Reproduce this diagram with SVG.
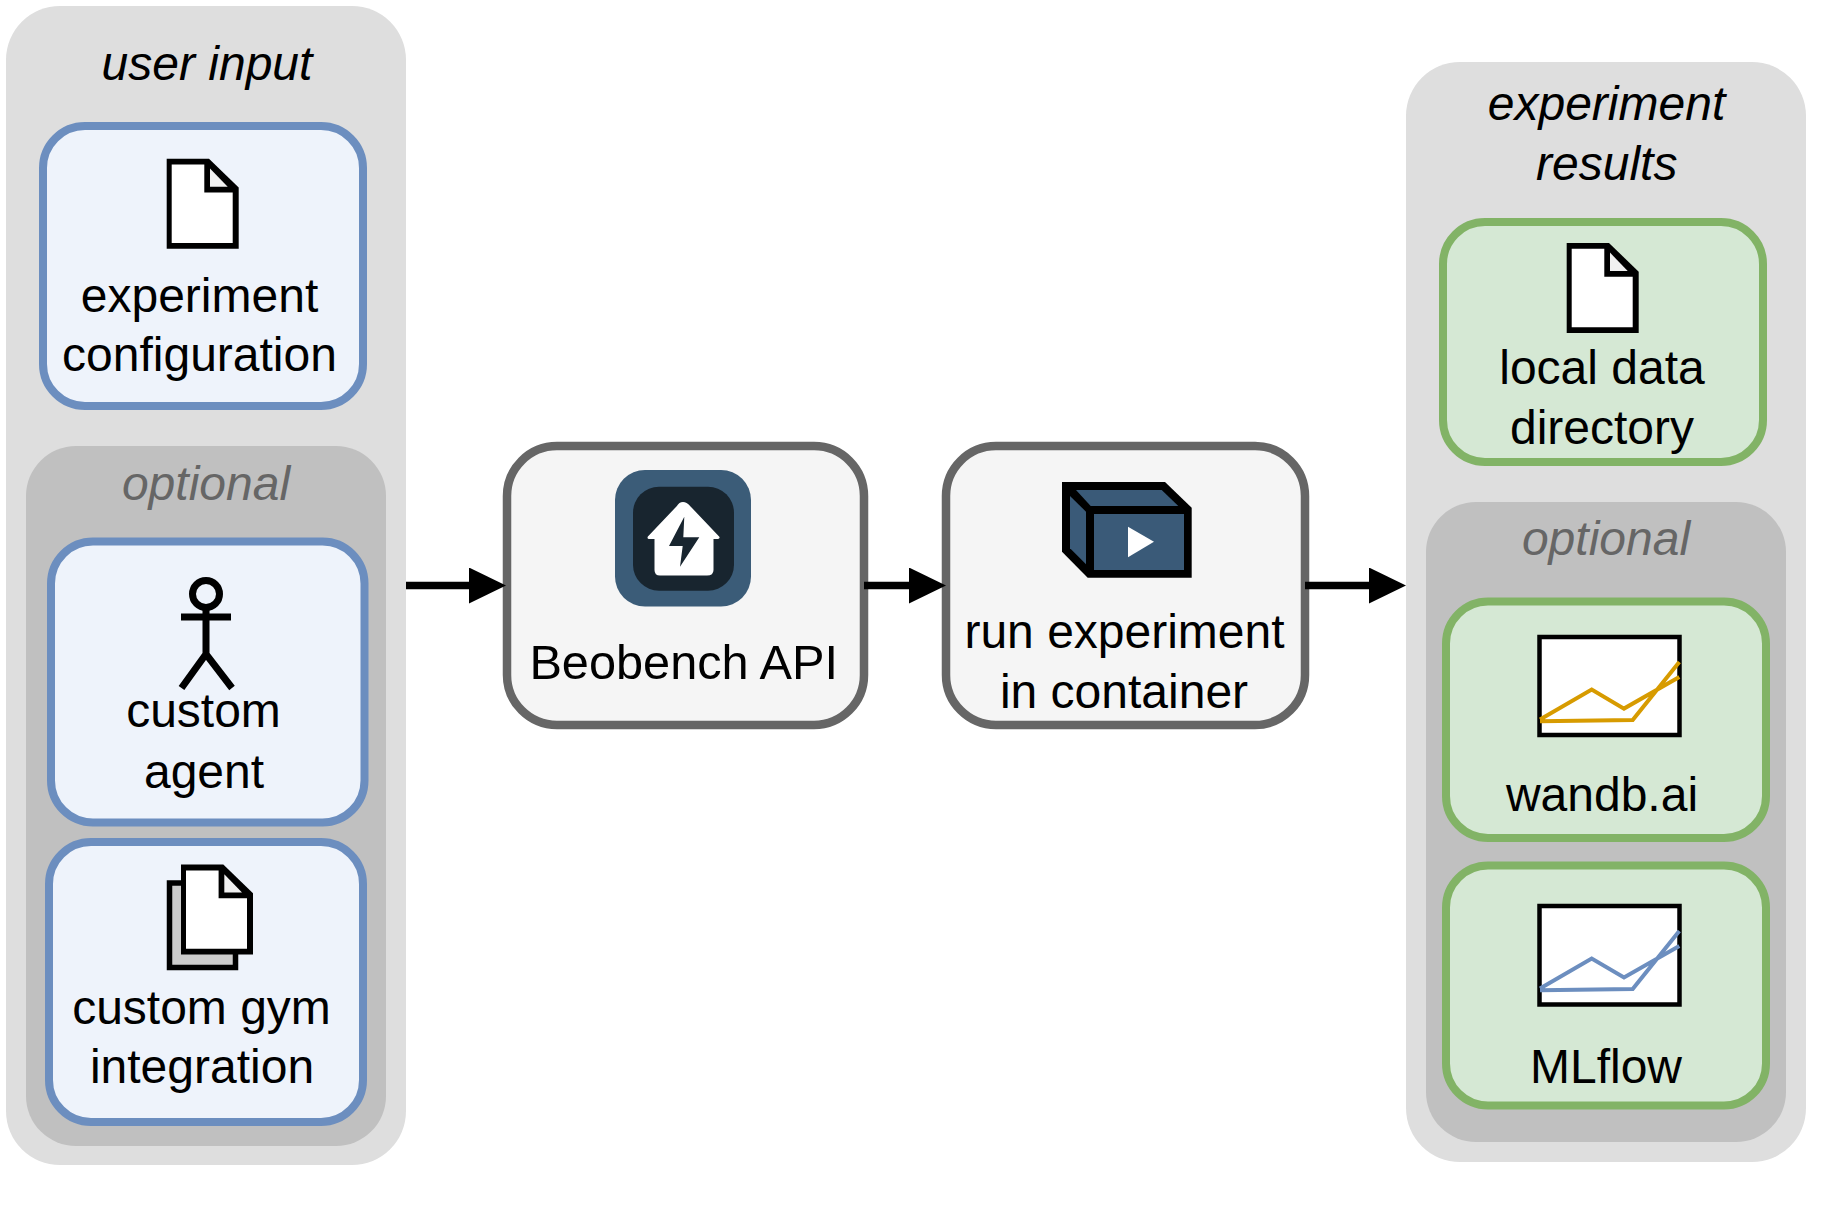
<svg xmlns="http://www.w3.org/2000/svg" width="1836" height="1224" viewBox="0 0 1836 1224">
<style>
text{font-family:"Liberation Sans",Arial,sans-serif;font-size:48px;fill:#000;text-anchor:middle}
.title{font-style:italic}
.opt{font-style:italic;fill:#666}
.outer{fill:#dedede}
.inner{fill:#c0c0c0}
.blue{fill:#eef3fb;stroke:#6c8ebf;stroke-width:8}
.green{fill:#d5e8d4;stroke:#82b366;stroke-width:8}
.grey{fill:#f5f5f5;stroke:#666;stroke-width:8.5}
.ic{stroke:#000;stroke-width:5.5;fill:#ccc}
.actor{stroke:#000;stroke-width:7;fill:none}
.face{fill:#3a5a78}
.chart{stroke:#000;stroke-width:4.5;fill:#fff}
.ol{stroke:#d79b00;stroke-width:4;fill:none}
.bl{stroke:#6c8ebf;stroke-width:4;fill:none}
.conn{stroke:#000;stroke-width:7.5;fill:none}
</style>
<defs>
<marker id="arrow" markerUnits="userSpaceOnUse" viewBox="0 0 37 36" refX="0" refY="18" markerWidth="37" markerHeight="36" orient="auto"><path d="M0 0L37 18L0 36Z" fill="#000"/></marker>
<g id="doc"><path fill="#000" d="M0 0H42.300L72 28.700V90H0Z"/><path fill="#fff" d="M5 5.800H37.600V33.700H66V84.200H5Z"/><path fill="#f0f0f0" d="M43.300 9.600L61 28H43.300Z"/></g>
</defs>
<g id="user-input">
<rect class="outer" x="6" y="6" width="400" height="1159" rx="54" ry="54"/>
<text class="title" x="207" y="80">user input</text>
</g>
<g id="user-optional">
<rect class="inner" x="26" y="446" width="360" height="700" rx="50" ry="50"/>
<text class="opt" x="206" y="499.500">optional</text>
</g>
<g id="experiment-configuration">
<rect class="blue" x="43" y="126" width="320" height="280" rx="42" ry="42"/>
<use href="#doc" x="166.700" y="158.800"/>
<text x="199.500" y="312">experiment</text>
<text x="199.500" y="371">configuration</text>
</g>
<g id="custom-agent">
<rect class="blue" x="51" y="541.500" width="313.500" height="281" rx="42" ry="42"/>
<circle cx="206" cy="594" r="13.500" stroke="#000" stroke-width="7" fill="none"/>
<path class="actor" d="M181 617H231M206 608V654M181.500 688L206 654L232 688"/>
<text x="203.500" y="727">custom</text>
<text x="204" y="787.500">agent</text>
</g>
<g id="custom-gym-integration">
<rect class="blue" x="49" y="842" width="314" height="280" rx="42" ry="42"/>
<path class="ic" d="M169.500 883H235.500V967.500H169.500Z"/>
<use href="#doc" x="181" y="864.600"/>
<text x="201.500" y="1023.500">custom gym</text>
<text x="202" y="1082.500">integration</text>
</g>
<g id="beobench-api">
<rect class="grey" x="507" y="446" width="357" height="279" rx="50" ry="50"/>
<rect x="615" y="470" width="136" height="136.500" rx="30" ry="30" fill="#3b5c78"/>
<rect x="633" y="486.700" width="101" height="104" rx="26" ry="26" fill="#18252f"/>
<path fill="#fff" stroke="#fff" stroke-width="3" stroke-linejoin="round" d="M683 503.500Q686 503.500 689 507L718 537.500H712V570Q712 574 707 574H660Q656 574 656 570V537.500H649L678 507Q680 503.500 683 503.500Z"/>
<path fill="#18252f" d="M684.300 516.700L683.300 537.300H699.300L680 566.700L682.700 546H669Z"/>
<text x="683.700" y="678.500" style="font-size:48.700px">Beobench API</text>
</g>
<g id="run-experiment">
<rect class="grey" x="946" y="446" width="359" height="279" rx="50" ry="50"/>
<path fill="#000" d="M1062 482H1165L1191.700 507.700V577.700H1087.700L1062 551.700Z"/>
<path class="face" d="M1076 490H1161.700L1178.300 506H1090.700Z"/>
<path class="face" d="M1070 496L1086 511.700V564.300L1070 548.300Z"/>
<rect class="face" x="1094" y="514" width="90" height="56"/>
<path fill="#fff" d="M1128 526.700L1154 541.700L1128 557.300Z"/>
<text x="1124.500" y="648">run experiment</text>
<text x="1124" y="707.500">in container</text>
</g>
<g id="experiment-results">
<rect class="outer" x="1406" y="62" width="400" height="1100" rx="54" ry="54"/>
<text class="title" x="1606.500" y="119.500">experiment</text>
<text class="title" x="1606.700" y="180">results</text>
</g>
<g id="results-optional">
<rect class="inner" x="1426" y="502" width="360" height="640" rx="50" ry="50"/>
<text class="opt" x="1606" y="555">optional</text>
</g>
<g id="local-data-directory">
<rect class="green" x="1443" y="222" width="320" height="240" rx="42" ry="42"/>
<use href="#doc" x="1566.700" y="243"/>
<text x="1602" y="383.500">local data</text>
<text x="1602" y="443.500">directory</text>
</g>
<g id="wandb">
<rect class="green" x="1446" y="601.500" width="320" height="236.500" rx="42" ry="42"/>
<rect class="chart" x="1539.500" y="637" width="140" height="98"/>
<path class="ol" d="M1540 719.400L1591.700 689.500L1624 708.600L1679.300 677M1540 721.300L1632.700 720L1679.300 662"/>
<text x="1602" y="811">wandb.ai</text>
</g>
<g id="mlflow">
<rect class="green" x="1446" y="865.500" width="320" height="240" rx="42" ry="42"/>
<rect class="chart" x="1539.500" y="906" width="140" height="98.500"/>
<path class="bl" d="M1540 988.500L1591.700 958.500L1624 977.500L1679.300 946M1540 990.300L1632.700 989L1679.300 931"/>
<text x="1606" y="1082.500">MLflow</text>
</g>
<g id="connectors">
<line class="conn" x1="406" y1="585.500" x2="469" y2="585.500" marker-end="url(#arrow)"/>
<line class="conn" x1="864" y1="585.500" x2="909" y2="585.500" marker-end="url(#arrow)"/>
<line class="conn" x1="1305" y1="585.500" x2="1369" y2="585.500" marker-end="url(#arrow)"/>
</g>
</svg>
